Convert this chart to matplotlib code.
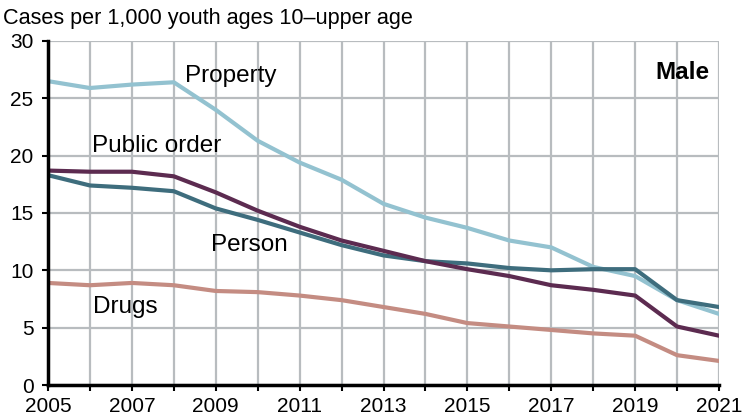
import matplotlib
matplotlib.use("Agg")
import matplotlib.pyplot as plt
from matplotlib.ticker import MultipleLocator

plt.rcParams["font.family"] = ["Liberation Sans", "DejaVu Sans"]

years = list(range(2005, 2022))
year_ticks = list(range(2005, 2022, 2))
property_cases = [26.5, 25.9, 26.2, 26.4, 24.0, 21.3, 19.4, 17.9, 15.8, 14.6,
                  13.7, 12.6, 12.0, 10.3, 9.5, 7.4, 6.2]
person_cases = [18.3, 17.4, 17.2, 16.9, 15.4, 14.4, 13.3, 12.2, 11.3, 10.8,
                10.6, 10.2, 10.0, 10.1, 10.1, 7.4, 6.8]
public_order_cases = [18.7, 18.6, 18.6, 18.2, 16.8, 15.2, 13.8, 12.6, 11.7, 10.8,
                      10.1, 9.5, 8.7, 8.3, 7.8, 5.1, 4.3]
drugs_cases = [8.9, 8.7, 8.9, 8.7, 8.2, 8.1, 7.8, 7.4, 6.8, 6.2,
               5.4, 5.1, 4.8, 4.5, 4.3, 2.6, 2.1]

fig = plt.figure(figsize=(7.5, 4.19), dpi=100)
ax = fig.add_axes([48 / 750, 1 - 385 / 419, (719 - 48) / 750, (385 - 41) / 419])

lw = 3
ax.plot(years, property_cases, color="#93c2d0", lw=lw, zorder=3)
ax.plot(years, person_cases, color="#3e6d7d", lw=lw, zorder=3)
ax.plot(years, public_order_cases, color="#5c2b50", lw=lw, zorder=4)
ax.plot(years, drugs_cases, color="#c48c82", lw=lw, zorder=3)

ax.set_xlim(2005, 2021)
ax.set_ylim(0, 30)
ax.set_xticks(year_ticks)
ax.xaxis.set_minor_locator(MultipleLocator(1))
ax.yaxis.set_major_locator(MultipleLocator(5))
ax.grid(True, which="both", color="#b8bcbf", lw=1.6, zorder=0)
ax.set_axisbelow(True)

for side in ["top", "right"]:
    ax.spines[side].set_visible(False)
for side in ["left", "bottom"]:
    ax.spines[side].set_linewidth(2.5)
    ax.spines[side].set_zorder(5)

ax.tick_params(axis="both", which="both", direction="out", width=1.5,
               length=4, labelsize=15, colors="black")
ax.tick_params(axis="x", which="both", pad=4.5)
ax.tick_params(axis="y", pad=6.5)

ax.text(2006.04, 20.34, "Public order", fontsize=17.5, va="baseline")
ax.text(2008.27, 26.45, "Property", fontsize=17.5, va="baseline")
ax.text(2008.88, 11.71, "Person", fontsize=17.5, va="baseline")
ax.text(2006.07, 6.3, "Drugs", fontsize=17.5, va="baseline")
ax.text(2020.78, 26.65, "Male", fontsize=17.5, fontweight="bold",
        ha="right", va="baseline")

fig.text(3 / 750, 1 - 24.3 / 419, "Cases per 1,000 youth ages 10\u2013upper age",
         fontsize=15.6, va="baseline")

fig.savefig("out.png", dpi=100)
